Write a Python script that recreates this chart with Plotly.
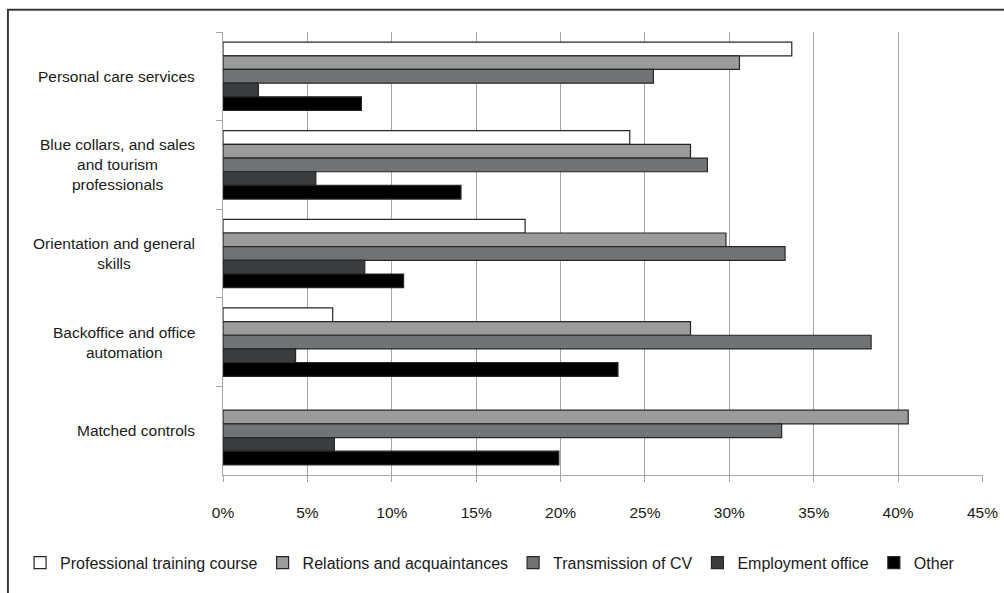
import plotly.graph_objects as go

# Occupational groups of the training courses (top to bottom)
categories = [
    "Personal care services",
    "Blue collars, and sales and tourism professionals",
    "Orientation and general skills",
    "Backoffice and office automation",
    "Matched controls",
]
category_labels = [
    "Personal care services",
    "Blue collars, and sales<br>and tourism<br>professionals",
    "Orientation and general<br>skills",
    "Backoffice and office<br>automation",
    "Matched controls",
]

# Share of job-search channels (%) per group
series_names = [
    "Professional training course",
    "Relations and acquaintances",
    "Transmission of CV",
    "Employment office",
    "Other",
]
professional_training = [33.7, 24.1, 17.9, 6.5, None]
relations = [30.6, 27.7, 29.8, 27.7, 40.6]
transmission_cv = [25.5, 28.7, 33.3, 38.4, 33.1]
employment_office = [2.1, 5.5, 8.4, 4.3, 6.6]
other = [8.2, 14.1, 10.7, 23.4, 19.9]

series_values = [professional_training, relations, transmission_cv,
                 employment_office, other]
series_colors = ["#FFFFFF", "#9A9C9C", "#717476", "#393D3F", "#000000"]

x_ticks = [0, 5, 10, 15, 20, 25, 30, 35, 40, 45]
x_tick_labels = ["0%", "5%", "10%", "15%", "20%", "25%", "30%", "35%",
                 "40%", "45%"]

fig = go.Figure()
for name, vals, col in zip(series_names, series_values, series_colors):
    fig.add_trace(go.Bar(
        y=categories, x=vals, name=name, orientation="h",
        marker=dict(color=col, line=dict(color="#262626", width=1.2)),
    ))

FONT = "Liberation Sans, Arial, sans-serif"
TXT = "#1a1a1a"

fig.update_layout(
    width=1004, height=593,
    margin=dict(l=223, r=21, t=32, b=118),
    paper_bgcolor="white", plot_bgcolor="white",
    barmode="group", bargap=0.228, bargroupgap=0,
    font=dict(family=FONT, size=15.5, color=TXT),
    showlegend=True,
    legend=dict(orientation="h", x=-0.267, xanchor="left",
                y=-0.198, yanchor="middle",
                font=dict(family=FONT, size=16, color=TXT),
                traceorder="normal", itemwidth=30),
    xaxis=dict(range=[0, 45.03], tickvals=x_ticks, ticktext=x_tick_labels,
               automargin=False,
               showgrid=True, gridcolor="#A6A6A6", gridwidth=1.3,
               showline=True, linecolor="#A6A6A6", linewidth=1.3,
               ticks="outside", ticklen=6, tickcolor="#A6A6A6",
               ticklabelstandoff=17, zeroline=False,
               tickfont=dict(family=FONT, size=15.5, color=TXT)),
    yaxis=dict(autorange="reversed", showticklabels=False, automargin=False,
               showline=True, linecolor="#A6A6A6", linewidth=1.3,
               ticks="outside", ticklen=6, tickcolor="#A6A6A6",
               tickson="boundaries", showgrid=False),
)

for cat, label in zip(categories, category_labels):
    fig.add_annotation(x=-0.034, xref="paper", y=cat, yref="y",
                       text=label, showarrow=False, xanchor="right",
                       yanchor="middle", align="center",
                       font=dict(family=FONT, size=15.5, color=TXT))

# Frame around the whole chart (open to the right and bottom edges)
fig.add_shape(type="rect", xref="paper", yref="paper",
              x0=-0.283, x1=1.5, y0=-0.6, y1=1.05,
              line=dict(color="#3a3a3a", width=2), layer="below")

fig.write_html("out.html")
